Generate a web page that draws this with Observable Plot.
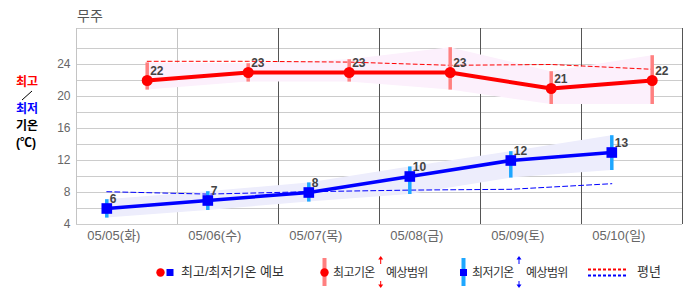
<!DOCTYPE html>
<html><head><meta charset="utf-8">
<script src="https://cdn.jsdelivr.net/npm/d3@7"></script>
<script src="https://cdn.jsdelivr.net/npm/@observablehq/plot@0.6"></script>
<style>
body{margin:0;background:#fff;}
#wrap{position:relative;width:686px;height:295px;overflow:hidden;font-family:'Liberation Sans',Arial,'Noto Sans CJK KR',sans-serif;}
.abs{position:absolute;white-space:nowrap;line-height:16px;}
.lab{font-size:12px;font-weight:bold;left:16px;}
.leg{font-size:13px;color:#333;top:264px;}
.leg2{font-size:12px;color:#333;top:265px;letter-spacing:-0.6px;}
</style></head><body>
<div id="wrap">
  <div id="chart" class="abs" style="left:0;top:0"></div>
  <div class="abs" style="left:77px;top:8px;font-size:14px;color:#555">무주</div>
  <div class="abs lab" style="top:74px;color:#f00">최고</div>
  <div class="abs lab" style="top:101px;color:#00f">최저</div>
  <div class="abs lab" style="top:118px;color:#000">기온</div>
  <div class="abs lab" style="top:135px;color:#000">(℃)</div>
  <svg class="abs" style="left:0;top:0" width="686" height="295">
    <line x1="22" y1="100" x2="32" y2="91" stroke="#000" stroke-width="1"/>
    <circle cx="160.5" cy="272.5" r="4.2" fill="#f00"/>
    <rect x="166.5" y="269" width="7" height="7" fill="#00f"/>
    <rect x="322.5" y="258" width="4" height="28" fill="#ff8080"/>
    <circle cx="324.5" cy="272.5" r="4.2" fill="#f00"/>
    <line x1="380.7" y1="258" x2="380.7" y2="264" stroke="#f00" stroke-width="1"/>
    <path d="M378.2,259.5 L380.7,256 L383.2,259.5 Z" fill="#f00"/>
    <line x1="380.7" y1="281" x2="380.7" y2="286" stroke="#f00" stroke-width="1"/>
    <path d="M378.2,284.5 L380.7,288 L383.2,284.5 Z" fill="#f00"/>
    <rect x="461.5" y="258" width="4" height="28" fill="#1ea7ff"/>
    <rect x="460" y="269" width="7" height="7" fill="#00f"/>
    <line x1="519" y1="258" x2="519" y2="264" stroke="#00f" stroke-width="1"/>
    <path d="M516.5,259.5 L519,256 L521.5,259.5 Z" fill="#00f"/>
    <line x1="519" y1="281" x2="519" y2="286" stroke="#00f" stroke-width="1"/>
    <path d="M516.5,284.5 L519,288 L521.5,284.5 Z" fill="#00f"/>
    <line x1="588" y1="269.5" x2="626" y2="269.5" stroke="#f00" stroke-width="2" stroke-dasharray="3,2"/>
    <line x1="588" y1="275.5" x2="626" y2="275.5" stroke="#00f" stroke-width="2" stroke-dasharray="3,2"/>
  </svg>
  <div class="abs leg" style="left:181px">최고/최저기온 예보</div>
  <div class="abs leg2" style="left:333px">최고기온</div>
  <div class="abs leg2" style="left:386px">예상범위</div>
  <div class="abs leg2" style="left:472px">최저기온</div>
  <div class="abs leg2" style="left:526px">예상범위</div>
  <div class="abs leg" style="left:637px">평년</div>
</div>
<script>
const dates = ["05/05(화)", "05/06(수)", "05/07(목)", "05/08(금)", "05/09(토)", "05/10(일)"];
const maxTemp = [22, 23, 23, 23, 21, 22];
const minTemp = [6, 7, 8, 10, 12, 13];
const maxHigh = [24.2, 24.1, 24.6, 26.1, 23.1, 25.1];
const maxLow  = [20.8, 21.8, 21.8, 20.8, 19.0, 19.0];
const minHigh = [7.1, 8.1, 9.2, 11.2, 13.1, 15.1];
const minLow  = [4.8, 5.75, 6.8, 7.75, 9.8, 10.75];
const normMax = [24.4, 24.4, 24.3, 23.9, 24.0, 23.4];
const normMin = [8.1, 7.8, 8.1, 8.3, 8.4, 9.1];
const yTicks = [4, 8, 12, 16, 20, 24];

const idx = d3.range(dates.length);
const xMax = i => i + 0.7;   // max-temp series position within day column
const xMin = i => i + 0.3;   // min-temp series position within day column
const yGrid = d3.range(4, 27, 2).concat([28.5]);
const font = "'Liberation Sans', Arial, 'Noto Sans CJK KR', sans-serif";

const chart = Plot.plot({
  width: 686, height: 250,
  marginTop: 28, marginRight: 4, marginBottom: 26, marginLeft: 76,
  x: {type: "linear", domain: [0, 6], axis: null},
  y: {type: "linear", domain: [4, 28.5], axis: null},
  style: {fontFamily: font, background: "white", overflow: "visible"},
  marks: [
    Plot.ruleY(yGrid, {stroke: "#cccccc", strokeWidth: 1}),
    Plot.ruleX([0, 1], {stroke: "#c4c4c4", strokeWidth: 1}),
    Plot.ruleX([2, 3, 4, 5, 6], {stroke: "#555555", strokeWidth: 1}),
    Plot.areaY(idx, {x: xMax, y1: i => maxLow[i], y2: i => maxHigh[i], fill: "#fcf0fc"}),
    Plot.areaY(idx, {x: xMin, y1: i => minLow[i], y2: i => minHigh[i], fill: "#ededfc"}),
    Plot.line(idx, {x: xMax, y: i => normMax[i], stroke: "#ff0000", strokeWidth: 1, strokeDasharray: "4,3"}),
    Plot.line(idx, {x: xMin, y: i => normMin[i], stroke: "#0000ff", strokeWidth: 1, strokeDasharray: "5,3"}),
    Plot.ruleX(idx, {x: xMax, y1: i => maxLow[i], y2: i => maxHigh[i], stroke: "#ff8080", strokeWidth: 3.5}),
    Plot.ruleX(idx, {x: xMin, y1: i => minLow[i], y2: i => minHigh[i], stroke: "#1ea7ff", strokeWidth: 3.5}),
    Plot.line(idx, {x: xMax, y: i => maxTemp[i], stroke: "#ff0000", strokeWidth: 4}),
    Plot.line(idx, {x: xMin, y: i => minTemp[i], stroke: "#0000ff", strokeWidth: 3.5}),
    Plot.dot(idx, {x: xMax, y: i => maxTemp[i], r: 5.5, fill: "#ff0000", stroke: "none"}),
    Plot.dot(idx, {x: xMin, y: i => minTemp[i], r: 6, symbol: "square", fill: "#0000ff", stroke: "none"}),
    Plot.text(idx, {x: xMax, y: i => maxTemp[i], text: i => String(maxTemp[i]), dx: 3, dy: -9, textAnchor: "start", fontWeight: "bold", fontSize: 12, fill: "#444"}),
    Plot.text(idx, {x: xMin, y: i => minTemp[i], text: i => String(minTemp[i]), dx: 3, dy: -9, textAnchor: "start", fontWeight: "bold", fontSize: 12, fill: "#444"}),
    Plot.text(yTicks, {x: 0, y: d => d, text: d => String(d), dx: -6, textAnchor: "end", fontSize: 12, fill: "#666"}),
    Plot.text(idx, {x: i => i + 0.37, y: 4, text: i => dates[i], dy: 11, textAnchor: "middle", fontSize: 13, fill: "#666"})
  ]
});
document.getElementById("chart").appendChild(chart);
</script>
</body></html>
